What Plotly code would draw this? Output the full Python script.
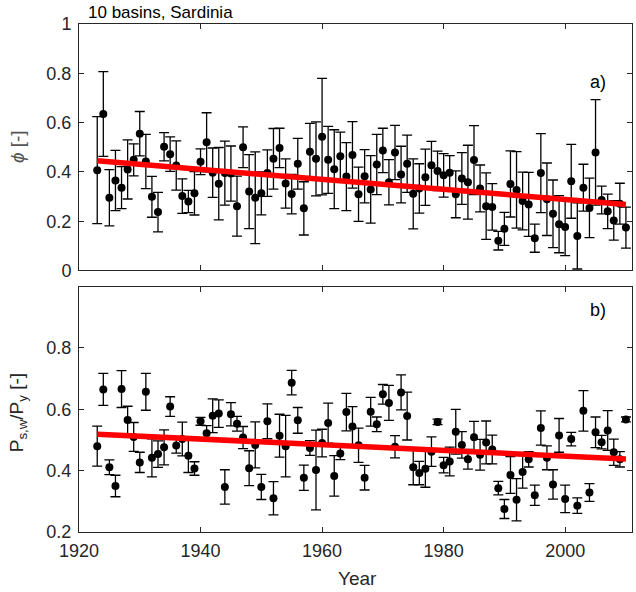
import plotly.graph_objects as go

years = list(range(1923, 2011))

phi = [0.407, 0.635, 0.295, 0.365, 0.336, 0.41, 0.449, 0.555, 0.442, 0.299,
       0.237, 0.502, 0.472, 0.426, 0.302, 0.28, 0.313, 0.441, 0.52, 0.397,
       0.352, 0.395, 0.393, 0.261, 0.5, 0.32, 0.295, 0.313, 0.395, 0.453,
       0.497, 0.353, 0.31, 0.433, 0.252, 0.482, 0.453, 0.543, 0.449, 0.411,
       0.463, 0.381, 0.469, 0.309, 0.382, 0.329, 0.43, 0.487, 0.358, 0.479,
       0.389, 0.433, 0.311, 0.333, 0.378, 0.427, 0.404, 0.386, 0.396, 0.309,
       0.373, 0.358, 0.448, 0.333, 0.261, 0.258, 0.121, 0.169, 0.351, 0.327,
       0.282, 0.268, 0.131, 0.395, 0.289, 0.23, 0.188, 0.176, 0.362, 0.14,
       0.336, 0.254, 0.479, 0.286, 0.24, 0.203, 0.271, 0.174]

phi_err = [0.217, 0.172, 0.114, 0.122, 0.085, 0.12, 0.065, 0.09, 0.11, 0.083,
           0.08, 0.057, 0.07, 0.1, 0.07, 0.045, 0.088, 0.052, 0.12, 0.1,
           0.147, 0.13, 0.112, 0.122, 0.083, 0.15, 0.186, 0.087, 0.094, 0.123,
           0.08, 0.1, 0.08, 0.103, 0.108, 0.115, 0.15, 0.236, 0.136, 0.16,
           0.098, 0.138, 0.135, 0.11, 0.108, 0.137, 0.122, 0.09, 0.092, 0.11,
           0.115, 0.116, 0.142, 0.1, 0.114, 0.097, 0.08, 0.088, 0.07, 0.095,
           0.105, 0.15, 0.14, 0.095, 0.135, 0.094, 0.038, 0.067, 0.134, 0.155,
           0.117, 0.13, 0.057, 0.16, 0.147, 0.137, 0.116, 0.116, 0.15, 0.134,
           0.095, 0.121, 0.214, 0.056, 0.07, 0.08, 0.083, 0.083]

ratio = [0.48, 0.665, 0.411, 0.35, 0.666, 0.565, 0.51, 0.427, 0.657, 0.442,
         0.454, 0.476, 0.609, 0.482, 0.503, 0.449, 0.407, 0.561, 0.522, 0.579,
         0.586, 0.347, 0.584, 0.553, 0.508, 0.408, 0.484, 0.347, 0.561, 0.31,
         0.514, 0.48, 0.687, 0.564, 0.377, 0.474, 0.402, 0.49, 0.555, 0.383,
         0.456, 0.591, 0.544, 0.483, 0.377, 0.592, 0.551, 0.649, 0.621, 0.478,
         0.655, 0.578, 0.411, 0.392, 0.406, 0.462, 0.559, 0.418, 0.43, 0.527,
         0.484, 0.437, 0.509, 0.452, 0.492, 0.469, 0.343, 0.275, 0.386, 0.305,
         0.396, 0.437, 0.32, 0.539, 0.442, 0.355, 0.515, 0.308, 0.503, 0.286,
         0.595, 0.329, 0.525, 0.493, 0.531, 0.46, 0.437, 0.567]

ratio_err = [0.065, 0.052, 0.024, 0.035, 0.06, 0.045, 0.047, 0.033, 0.06, 0.062,
             0.043, 0.057, 0.032, 0.025, 0.055, 0.055, 0.022, 0.013, 0.025, 0.055,
             0.045, 0.056, 0.038, 0.024, 0.036, 0.057, 0.075, 0.041, 0.057, 0.054,
             0.07, 0.1, 0.04, 0.042, 0.041, 0.024, 0.13, 0.045, 0.065, 0.066,
             0.02, 0.061, 0.065, 0.056, 0.04, 0.047, 0.024, 0.032, 0.057, 0.036,
             0.057, 0.078, 0.057, 0.038, 0.06, 0.048, 0.009, 0.025, 0.047, 0.073,
             0.043, 0.032, 0.052, 0.05, 0.07, 0.047, 0.022, 0.031, 0.06, 0.069,
             0.053, 0.025, 0.033, 0.056, 0.039, 0.048, 0.055, 0.045, 0.022, 0.025,
             0.066, 0.029, 0.05, 0.022, 0.065, 0.043, 0.025, 0.008]

trend_years = [1923, 2010]
phi_trend = [0.445, 0.268]
ratio_trend = [0.519, 0.438]

x_ticks = [1920, 1940, 1960, 1980, 2000]
phi_ticks = [0, 0.2, 0.4, 0.6, 0.8, 1]
phi_ticktext = ["0", "0.2", "0.4", "0.6", "0.8", "1"]
ratio_ticks = [0.2, 0.4, 0.6, 0.8]
ratio_ticktext = ["0.2", "0.4", "0.6", "0.8"]

FONT = "Liberation Sans, Arial, Helvetica, sans-serif"
AX = "#262626"

fig = go.Figure()

def add_panel(y, err, trend, xa, ya):
    fig.add_trace(go.Scatter(
        x=years, y=y, mode="markers", xaxis=xa, yaxis=ya,
        marker=dict(color="black", size=8),
        error_y=dict(type="data", array=err, visible=True,
                     color="black", thickness=1.3, width=5),
        showlegend=False, hoverinfo="skip"))
    fig.add_trace(go.Scatter(
        x=trend_years, y=trend, mode="lines", xaxis=xa, yaxis=ya,
        line=dict(color="#ff0000", width=5.5),
        showlegend=False, hoverinfo="skip"))

add_panel(phi, phi_err, phi_trend, "x", "y")
add_panel(ratio, ratio_err, ratio_trend, "x2", "y2")

axis_common = dict(showline=True, linecolor=AX, linewidth=1, mirror="ticks",
                   ticks="inside", ticklen=5, tickcolor=AX, tickwidth=1,
                   showgrid=False, zeroline=False,
                   tickfont=dict(family=FONT, size=18, color=AX))

fig.update_layout(
    width=636, height=592,
    margin=dict(l=79, r=4, t=24, b=60),
    paper_bgcolor="white", plot_bgcolor="white",
    xaxis=dict(axis_common, range=[1920, 2011], tickvals=x_ticks,
               showticklabels=False, anchor="y"),
    yaxis=dict(axis_common, range=[0, 1], tickvals=phi_ticks,
               ticktext=phi_ticktext, domain=[0.5148, 1], anchor="x",
               ticklabelstandoff=3),
    xaxis2=dict(axis_common, range=[1920, 2011], tickvals=x_ticks,
                anchor="y2", ticklabelstandoff=2),
    yaxis2=dict(axis_common, range=[0.2, 1.0], tickvals=ratio_ticks,
                ticktext=ratio_ticktext, domain=[0, 0.483], anchor="x2",
                ticklabelstandoff=3),
    annotations=[
        dict(text="10 basins, Sardinia", xref="paper", yref="paper",
             x=0.012, y=1, xanchor="left", yanchor="bottom", showarrow=False,
             font=dict(family=FONT, size=17, color="black")),
        dict(text="a)", xref="paper", yref="paper", x=0.9385, y=0.886,
             xanchor="center", yanchor="middle", showarrow=False,
             font=dict(family=FONT, size=18, color="black")),
        dict(text="b)", xref="paper", yref="paper", x=0.9385, y=0.437,
             xanchor="center", yanchor="middle", showarrow=False,
             font=dict(family=FONT, size=18, color="black")),
        dict(text="Year", xref="paper", yref="paper", x=0.503, y=-0.0906,
             xanchor="center", yanchor="middle", showarrow=False,
             font=dict(family=FONT, size=19, color=AX)),
        dict(text="<i>ϕ</i> [-]", xref="paper", yref="paper", x=-0.110, y=0.758,
             xanchor="center", yanchor="middle", showarrow=False, textangle=-90,
             font=dict(family=FONT, size=19, color="#555555")),
        dict(text="P<sub>s,w</sub>/P<sub>y</sub> [-]", xref="paper", yref="paper",
             x=-0.110, y=0.234, xanchor="center", yanchor="middle",
             showarrow=False, textangle=-90,
             font=dict(family=FONT, size=19, color=AX)),
    ],
)

fig.write_html("out.html")
